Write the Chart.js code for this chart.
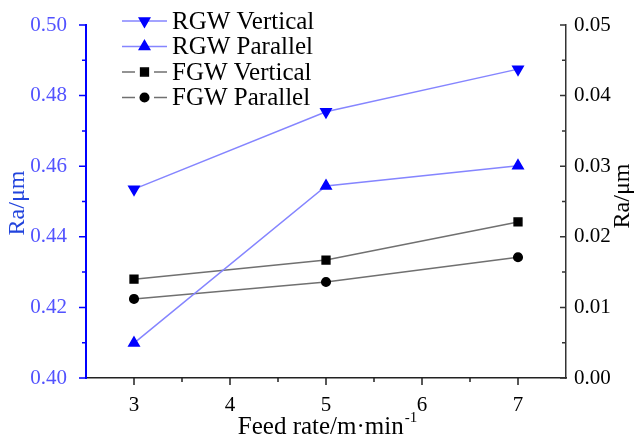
<!DOCTYPE html>
<html>
<head>
<meta charset="utf-8">
<script src="https://cdn.jsdelivr.net/npm/chart.js@4.4.1/dist/chart.umd.min.js"></script>
<style>
  html, body { margin: 0; padding: 0; background: #fff; }
  #c { display: block; }
</style>
</head>
<body>
<canvas id="c" width="635" height="440"></canvas>
<script>
// --- data ---
const feedRates   = [3, 5, 7];
const rgwVertical = [0.4535, 0.4754, 0.4875];   // left axis
const rgwParallel = [0.4099, 0.4544, 0.4601];   // left axis
const fgwVertical = [0.0140, 0.0167, 0.0221];   // right axis
const fgwParallel = [0.0112, 0.0136, 0.0171];   // right axis

const xTicks     = [3, 4, 5, 6, 7];
const xMinor     = [3.5, 4.5, 5.5, 6.5];
const leftTicks  = [0.40, 0.42, 0.44, 0.46, 0.48, 0.50];
const leftMinor  = [0.41, 0.43, 0.45, 0.47, 0.49];
const rightTicks = [0.00, 0.01, 0.02, 0.03, 0.04, 0.05];
const rightMinor = [0.005, 0.015, 0.025, 0.035, 0.045];

const SERIF = '"Liberation Serif", "Times New Roman", serif';
const BLUE = '#0000ff';
const BLUE_LINE = '#8585ff';
const BLUE_TEXT = '#5252ff';

const pts = ys => feedRates.map((x, i) => ({ x, y: ys[i] }));

// ticks, axis titles and legend drawn by hand
const decor = {
  id: 'decor',
  afterDraw(chart) {
    const ctx = chart.ctx;
    const { x, y, y1 } = chart.scales;
    const a = chart.chartArea;
    ctx.save();
    ctx.lineWidth = 1.5;

    // bottom axis ticks (outward)
    ctx.strokeStyle = '#222';
    ctx.beginPath();
    xTicks.forEach(v => { const px = x.getPixelForValue(v); ctx.moveTo(px, a.bottom); ctx.lineTo(px, a.bottom + 7); });
    xMinor.forEach(v => { const px = x.getPixelForValue(v); ctx.moveTo(px, a.bottom); ctx.lineTo(px, a.bottom + 4); });
    ctx.stroke();

    // left axis ticks (outward)
    ctx.strokeStyle = BLUE;
    ctx.beginPath();
    leftTicks.forEach(v => { const py = y.getPixelForValue(v); ctx.moveTo(a.left, py); ctx.lineTo(a.left - 7, py); });
    leftMinor.forEach(v => { const py = y.getPixelForValue(v); ctx.moveTo(a.left, py); ctx.lineTo(a.left - 4, py); });
    ctx.stroke();

    // right axis ticks (inward)
    ctx.strokeStyle = '#333';
    ctx.beginPath();
    rightTicks.forEach(v => { const py = y1.getPixelForValue(v); ctx.moveTo(a.right, py); ctx.lineTo(a.right - 6, py); });
    rightMinor.forEach(v => { const py = y1.getPixelForValue(v); ctx.moveTo(a.right, py); ctx.lineTo(a.right - 4, py); });
    ctx.stroke();

    // axis titles
    ctx.font = '24px ' + SERIF;
    ctx.textAlign = 'center';
    ctx.textBaseline = 'middle';
    ctx.fillStyle = '#2244dd';
    ctx.save(); ctx.translate(18, 203); ctx.rotate(-Math.PI / 2); ctx.fillText('Ra/μm', 0, 0); ctx.restore();
    ctx.fillStyle = '#000';
    ctx.save(); ctx.translate(623, 196); ctx.rotate(-Math.PI / 2); ctx.fillText('Ra/μm', 0, 0); ctx.restore();

    // x title with superscript
    const main = 'Feed rate/m·min', sup = '-1';
    ctx.textAlign = 'left';
    ctx.textBaseline = 'alphabetic';
    ctx.font = '25px ' + SERIF;
    const w1 = ctx.measureText(main).width;
    ctx.font = '15px ' + SERIF;
    const w2 = ctx.measureText(sup).width;
    const sx = 327 - (w1 + w2) / 2;
    ctx.font = '25px ' + SERIF;
    ctx.fillText(main, sx, 434);
    ctx.font = '15px ' + SERIF;
    ctx.fillText(sup, sx + w1 + 1, 422);

    // legend
    chart.data.datasets.forEach((ds, i) => {
      const ly = 21 + i * 25.5;
      ctx.strokeStyle = ds.borderColor;
      ctx.lineWidth = 1.5;
      ctx.beginPath();
      if (ds.yAxisID === 'y') {
        ctx.moveTo(122, ly); ctx.lineTo(167, ly);
      } else {
        ctx.moveTo(122, ly); ctx.lineTo(135, ly);
        ctx.moveTo(154, ly); ctx.lineTo(167, ly);
      }
      ctx.stroke();
      ctx.fillStyle = ds.pointBackgroundColor;
      ctx.strokeStyle = ds.pointBorderColor;
      Chart.helpers.drawPoint(ctx, {
        pointStyle: ds.pointStyle, rotation: ds.pointRotation || 0,
        radius: ds.pointRadius, borderWidth: 1
      }, 144.5, ly);
      ctx.fillStyle = '#000';
      ctx.font = '25px ' + SERIF;
      ctx.textBaseline = 'middle';
      ctx.fillText(ds.label, 172, ly + 1);
    });
    ctx.restore();
  }
};

new Chart(document.getElementById('c'), {
  type: 'line',
  data: {
    datasets: [
      { label: 'RGW Vertical', data: pts(rgwVertical), yAxisID: 'y',
        borderColor: BLUE_LINE, borderWidth: 1.5,
        pointStyle: 'triangle', pointRotation: 180, pointRadius: 6,
        pointBackgroundColor: BLUE, pointBorderColor: BLUE },
      { label: 'RGW Parallel', data: pts(rgwParallel), yAxisID: 'y',
        borderColor: BLUE_LINE, borderWidth: 1.5,
        pointStyle: 'triangle', pointRadius: 6,
        pointBackgroundColor: BLUE, pointBorderColor: BLUE },
      { label: 'FGW Vertical', data: pts(fgwVertical), yAxisID: 'y1',
        borderColor: '#707070', borderWidth: 1.5,
        pointStyle: 'rect', pointRadius: 5.5,
        pointBackgroundColor: '#000', pointBorderColor: '#000' },
      { label: 'FGW Parallel', data: pts(fgwParallel), yAxisID: 'y1',
        borderColor: '#707070', borderWidth: 1.5,
        pointStyle: 'circle', pointRadius: 4.3,
        pointBackgroundColor: '#000', pointBorderColor: '#000' }
    ]
  },
  options: {
    responsive: false,
    animation: false,
    devicePixelRatio: 1,
    layout: { padding: { top: 25, left: 0, right: 0, bottom: 0 } },
    plugins: { legend: { display: false }, tooltip: { enabled: false } },
    elements: { line: { tension: 0 } },
    scales: {
      x: {
        type: 'linear', min: 2.5, max: 7.5,
        afterBuildTicks: s => { s.ticks = xTicks.map(v => ({ value: v })); },
        afterFit: s => { s.height = 62; },
        grid: { display: false },
        border: { display: true, color: '#222', width: 1.5 },
        ticks: { color: '#000', font: { family: SERIF, size: 21 }, padding: 7, maxRotation: 0 }
      },
      y: {
        position: 'left', min: 0.40, max: 0.50,
        afterBuildTicks: s => { s.ticks = leftTicks.map(v => ({ value: v })); },
        afterFit: s => { s.width = 86; },
        grid: { display: false },
        border: { display: true, color: BLUE, width: 2 },
        ticks: { color: BLUE_TEXT, font: { family: SERIF, size: 21 }, padding: 11,
                 callback: v => v.toFixed(2) }
      },
      y1: {
        position: 'right', min: 0, max: 0.05,
        afterBuildTicks: s => { s.ticks = rightTicks.map(v => ({ value: v })); },
        afterFit: s => { s.width = 69; },
        grid: { display: false },
        border: { display: true, color: '#333', width: 1.5 },
        ticks: { color: '#000', font: { family: SERIF, size: 21 }, padding: 0,
                 callback: v => v.toFixed(2) }
      }
    }
  },
  plugins: [decor]
});
</script>
</body>
</html>
